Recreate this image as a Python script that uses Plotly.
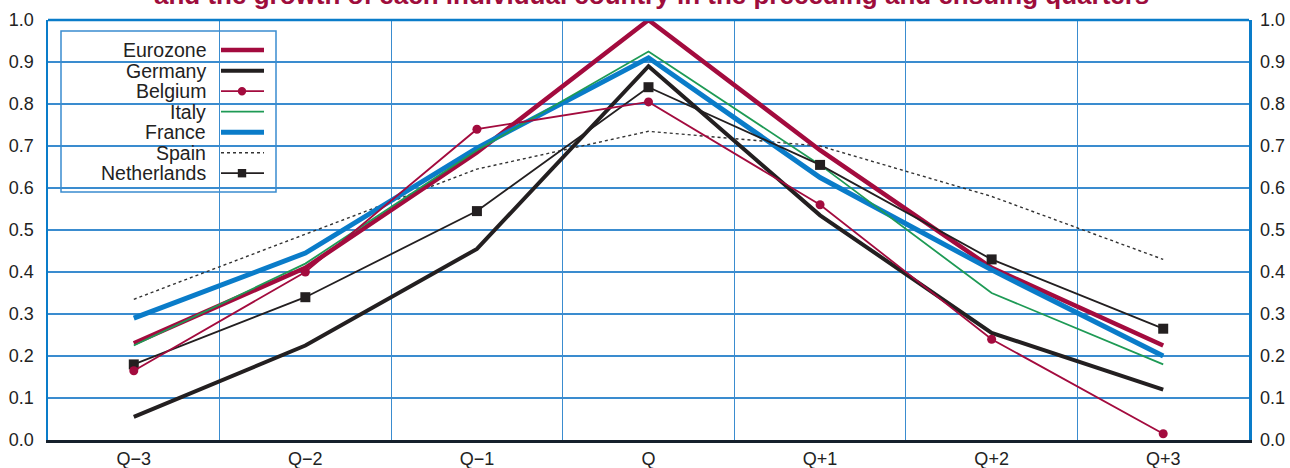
import plotly.graph_objects as go

categories = ["Q\u22123", "Q\u22122", "Q\u22121", "Q", "Q+1", "Q+2", "Q+3"]
eurozone = [0.23, 0.41, 0.685, 1.0, 0.69, 0.41, 0.225]
germany = [0.055, 0.225, 0.455, 0.89, 0.535, 0.255, 0.12]
belgium = [0.165, 0.40, 0.74, 0.805, 0.56, 0.24, 0.015]
italy = [0.225, 0.42, 0.69, 0.925, 0.655, 0.35, 0.18]
france = [0.29, 0.445, 0.695, 0.91, 0.625, 0.405, 0.20]
spain = [0.335, 0.49, 0.645, 0.735, 0.70, 0.58, 0.43]
netherlands = [0.18, 0.34, 0.545, 0.84, 0.655, 0.43, 0.265]
y_ticks = [round(i * 0.1, 1) for i in range(11)]
title_text = "and the growth of each individual country in the preceding and ensuing quarters"

RED = "#a30b3e"
BLACK = "#231f20"
GREEN = "#1e9a55"
BLUE = "#0a7cc9"
GRID = "#3a8ccf"
FONT = "Liberation Sans, Arial, sans-serif"

series = [
    ("Spain", spain, dict(color="#333333", width=1.4, dash="dot"), None),
    ("Germany", germany, dict(color=BLACK, width=4), None),
    ("Eurozone", eurozone, dict(color=RED, width=4.5), None),
    ("France", france, dict(color=BLUE, width=5), None),
    ("Italy", italy, dict(color=GREEN, width=1.8), None),
    ("Netherlands", netherlands, dict(color=BLACK, width=1.8), dict(symbol="square", size=10, color=BLACK)),
    ("Belgium", belgium, dict(color=RED, width=1.8), dict(symbol="circle", size=9, color=RED)),
]

fig = go.Figure()
for name, vals, line, marker in series:
    fig.add_trace(go.Scatter(
        x=categories, y=vals, name=name, mode="lines+markers" if marker else "lines",
        line=line, marker=marker, cliponaxis=False, showlegend=False,
    ))

# invisible trace to draw right-hand axis
fig.add_trace(go.Scatter(x=[categories[0]], y=[0], yaxis="y2", mode="markers",
                         marker=dict(opacity=0), showlegend=False, hoverinfo="skip"))

W, H = 1290, 468
L, R, T, B = 48, 41, 20, 28
pw, ph = W - L - R, H - T - B


def px(x):
    return (x - L) / pw


def py(y):
    return (H - B - y) / ph


shapes = []
annotations = []
# top border
shapes.append(dict(type="line", xref="paper", yref="paper", x0=0, x1=1, y0=1, y1=1,
                   line=dict(color=BLUE, width=2.5), layer="above"))
# legend box
shapes.append(dict(type="rect", xref="paper", yref="paper", x0=px(61), x1=px(276), y0=py(192), y1=py(31),
                   fillcolor="white", line=dict(color=GRID, width=1.5), layer="between"))
legend_order = ["Eurozone", "Germany", "Belgium", "Italy", "France", "Spain", "Netherlands"]
style = {n: (line, marker) for n, _, line, marker in series}
row_y = [50, 70.7, 91.2, 111.7, 132.2, 152.7, 173.2]
for name, yy in zip(legend_order, row_y):
    line, marker = style[name]
    shapes.append(dict(type="line", xref="paper", yref="paper", x0=px(221), x1=px(264), y0=py(yy), y1=py(yy),
                       line=dict(color=line["color"], width=line["width"], dash=line.get("dash", "solid")),
                       layer="above"))
    if marker:
        s = 4.2
        shapes.append(dict(type="circle" if marker["symbol"] == "circle" else "rect", xref="paper", yref="paper",
                           x0=px(242 - s), x1=px(242 + s), y0=py(yy + s), y1=py(yy - s),
                           fillcolor=marker["color"], line=dict(width=0), layer="above"))
    annotations.append(dict(text=name, xref="paper", yref="paper", x=px(208), y=py(yy), xanchor="right",
                            yanchor="middle", showarrow=False, font=dict(family=FONT, size=19.5, color="#222222")))

annotations.append(dict(text="<b>" + title_text + "</b>", xref="paper", yref="paper", x=px(651), y=py(12.5),
                        xanchor="center", yanchor="bottom", showarrow=False,
                        font=dict(family=FONT, size=26, color="#9e0d3c")))

axis_font = dict(family=FONT, size=18, color="#222222")
fig.update_layout(
    width=W, height=H, margin=dict(l=L, r=R, t=T, b=B, autoexpand=False),
    paper_bgcolor="white", plot_bgcolor="white",
    font=dict(family=FONT),
    xaxis=dict(type="category", categoryorder="array", categoryarray=categories, range=[-0.5, 6.5],
               tickson="boundaries", showgrid=True, gridcolor=GRID, gridwidth=1.2, ticks="",
               showline=True, linecolor="#15202c", linewidth=2.5, tickfont=axis_font, zeroline=False,
               ticklabelstandoff=1, automargin=False),
    yaxis=dict(range=[0, 1], tickvals=y_ticks, tickformat=".1f", showgrid=True, gridcolor=GRID, gridwidth=1.2,
               showline=True, linecolor=BLUE, linewidth=2.5, mirror=True, zeroline=False, ticks="",
               tickfont=axis_font, ticklabelstandoff=8, automargin=False),
    yaxis2=dict(range=[0, 1], tickvals=y_ticks, tickformat=".1f", overlaying="y", side="right", showgrid=False,
                zeroline=False, showline=False, ticks="", tickfont=axis_font, ticklabelstandoff=10,
                automargin=False),
    shapes=shapes, annotations=annotations,
)

fig.write_html("out.html", config={"displayModeBar": False, "staticPlot": True},
               post_script="document.body.style.margin='0';document.body.style.overflow='hidden';")
